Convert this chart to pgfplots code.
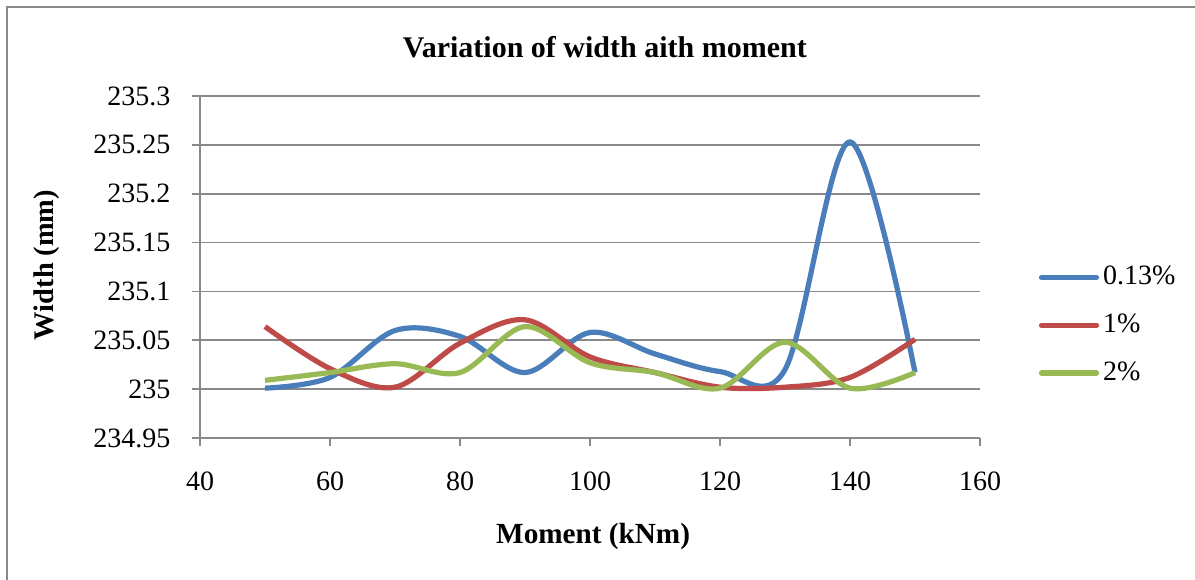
\documentclass[border=0pt]{standalone}
\usepackage{pgfplots}
\pgfplotsset{compat=1.18}
\usepackage{fontspec}
\setmainfont{Liberation Serif}

\definecolor{xlblue}{HTML}{4A7EBB}
\definecolor{xlred}{HTML}{BE4B48}
\definecolor{xlgreen}{HTML}{98B954}
\definecolor{xlgrid}{HTML}{898989}

\begin{document}
\fontsize{14}{16}\selectfont
\begin{tikzpicture}
\useasboundingbox (0,0) rectangle (597.5pt,289.5pt);
\draw[xlgrid, line width=1pt] (3.5pt,-1pt) -- (3.5pt,285.75pt) -- (600pt,285.75pt);
\begin{axis}[
  at={(100pt,70.5pt)}, anchor=south west,
  scale only axis,
  width=390pt, height=171pt,
  xmin=40, xmax=160, ymin=234.95, ymax=235.3,
  xtick={40,60,...,160},
  ytick={234.95,235,235.05,235.1,235.15,235.2,235.25,235.3},
  yticklabels={234.95,235,235.05,235.1,235.15,235.2,235.25,235.3},
  axis x line=bottom, axis y line=left,
  axis line style={xlgrid, line width=0.8pt, -},
  tick align=outside, major tick length=4pt,
  tick style={xlgrid, line width=0.8pt},
  ymajorgrids, grid style={xlgrid, line width=0.8pt},
  /pgf/number format/assume math mode=true,
  tick label style={font=\fontsize{14}{16}\selectfont},
  xticklabel style={yshift=-8pt},
  yticklabel style={xshift=-6pt},
  title={Variation of width aith moment},
  title style={font=\fontsize{15}{17}\selectfont\bfseries, at={(0.519,1)}, anchor=center, yshift=18.5pt},
  xlabel={Moment (kNm)},
  xlabel style={font=\fontsize{14.6}{17}\selectfont\bfseries, at={(axis description cs:0.504,-0.288)}, anchor=center},
  ylabel={Width (mm)},
  ylabel style={font=\fontsize{14.2}{16}\selectfont\bfseries, at={(axis description cs:-0.196,0.506)}, anchor=center},
  legend style={draw=none, fill=none, at={(1.075,0.33)}, anchor=west,
    font=\fontsize{14}{16}\selectfont, row sep=8.5pt, inner sep=0pt},
  legend cell align=left,
  legend image code/.code={\draw[#1, line cap=round] (0pt,0pt) -- (27.5pt,0pt);},
  every axis plot/.append style={line width=2.6pt, smooth, tension=0.55, no markers},
]
\addplot[xlblue] coordinates {
(50,235.001) (60,235.012) (70,235.060) (80,235.054) (90,235.017) (100,235.058)
(110,235.036) (120,235.018) (130,235.020) (140,235.253) (150,235.017)
};
\addlegendentry{0.13\%}
\addplot[xlred] coordinates {
(50,235.064) (60,235.021) (70,235.002) (80,235.047) (90,235.071) (100,235.033)
(110,235.017) (120,235.002) (130,235.002) (140,235.012) (150,235.051)
};
\addlegendentry{1\%}
\addplot[xlgreen] coordinates {
(50,235.009) (60,235.017) (70,235.026) (80,235.017) (90,235.064) (100,235.027)
(110,235.017) (120,235.001) (130,235.048) (140,235.001) (150,235.017)
};
\addlegendentry{2\%}
\end{axis}
\end{tikzpicture}
\end{document}
